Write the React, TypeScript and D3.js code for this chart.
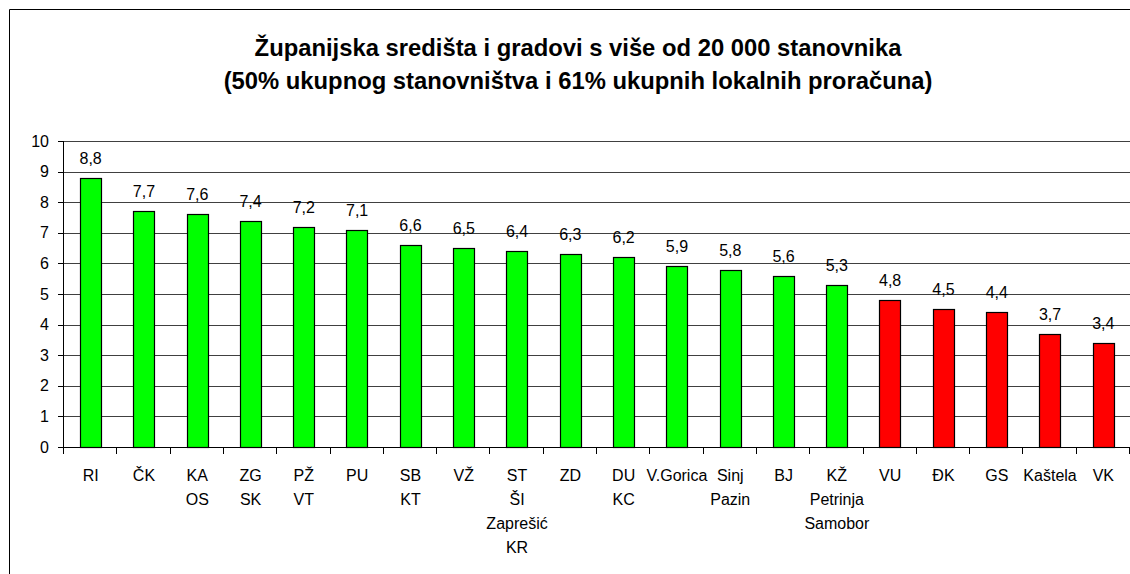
import React from 'react'
import * as d3 from 'd3'

const titleLines = [
  'Županijska središta i gradovi s više od 20 000 stanovnika',
  '(50% ukupnog stanovništva i 61% ukupnih lokalnih proračuna)',
]

const categories = [
  'RI', 'ČK', 'KA\nOS', 'ZG\nSK', 'PŽ\nVT', 'PU', 'SB\nKT', 'VŽ', 'ST\nŠI\nZaprešić\nKR', 'ZD',
  'DU\nKC', 'V.Gorica', 'Sinj\nPazin', 'BJ', 'KŽ\nPetrinja\nSamobor', 'VU', 'ĐK', 'GS', 'Kaštela', 'VK',
]

const values = [8.8, 7.7, 7.6, 7.4, 7.2, 7.1, 6.6, 6.5, 6.4, 6.3, 6.2, 5.9, 5.8, 5.6, 5.3, 4.8, 4.5, 4.4, 3.7, 3.4]

const yTicks = [0, 1, 2, 3, 4, 5, 6, 7, 8, 9, 10]

const W = 1130
const H = 574
const FONT = "Arial, 'Liberation Sans', sans-serif"

export default function App() {
  const margin = { top: 141, right: 0, bottom: H - 447, left: 64 }

  const x = d3.scaleBand<number>()
    .domain(d3.range(categories.length))
    .range([margin.left, W - margin.right])
    .paddingInner(0.6)
    .paddingOuter(0.3)
  // band step used for ticks between categories
  const step = (W - margin.right - margin.left) / categories.length
  const y = d3.scaleLinear().domain([0, 10]).range([H - margin.bottom, margin.top])

  const fmt = (v: number) => v.toFixed(1).replace('.', ',')

  return (
    <svg width={W} height={H} style={{ position: 'fixed', left: 0, top: 0, background: '#fff' }}>
      <rect x={0} y={0} width={W} height={H} fill="#fff" />
      {/* chart frame */}
      <path d={`M9.5,${H} V9.5 H${W}`} fill="none" stroke="#000" strokeWidth={1} />

      {titleLines.map((t, i) => (
        <text key={i} x={578} y={56 + i * 33} textAnchor="middle" fontFamily={FONT}
          fontWeight="bold" fontSize={23.8} fill="#000">{t}</text>
      ))}

      {/* gridlines */}
      {yTicks.map((t) => (
        <line key={t} x1={margin.left} x2={W} y1={Math.round(y(t)) + 0.5} y2={Math.round(y(t)) + 0.5}
          stroke={t === 0 ? '#000' : '#404040'} strokeWidth={1} />
      ))}

      {/* y axis */}
      <line x1={margin.left - 0.5} x2={margin.left - 0.5} y1={y(10)} y2={y(0) + 0.5} stroke="#000" />
      {yTicks.map((t) => (
        <g key={t}>
          <line x1={margin.left - 6} x2={margin.left} y1={Math.round(y(t)) + 0.5} y2={Math.round(y(t)) + 0.5} stroke="#000" />
          <text x={margin.left - 15} y={y(t)} dy="0.35em" textAnchor="end" fontFamily={FONT}
            fontSize={16} fill="#000">{t}</text>
        </g>
      ))}

      {/* x ticks */}
      {d3.range(categories.length + 1).map((i) => {
        const xx = Math.round(margin.left + i * step) - 0.5
        return <line key={i} x1={xx} x2={xx} y1={y(0)} y2={y(0) + 7} stroke="#000" />
      })}

      {/* bars */}
      {values.map((v, i) => (
        <rect key={i} x={Math.round(x(i)!) + 0.5} y={Math.round(y(v)) + 0.5}
          width={Math.round(x.bandwidth())} height={Math.round(y(0)) - Math.round(y(v))}
          fill={v < 5 ? '#ff0000' : '#00ff00'} stroke="#000" strokeWidth={1.2} />
      ))}

      {/* value labels */}
      {values.map((v, i) => (
        <text key={i} x={x(i)! + x.bandwidth() / 2} y={y(v) - 14} textAnchor="middle"
          fontFamily={FONT} fontSize={16} fill="#000">{fmt(v)}</text>
      ))}

      {/* category labels */}
      {categories.map((c, i) => (
        <text key={i} x={x(i)! + x.bandwidth() / 2} y={481} textAnchor="middle"
          fontFamily={FONT} fontSize={16} fill="#000">
          {c.split('\n').map((line, j) => (
            <tspan key={j} x={x(i)! + x.bandwidth() / 2} y={481 + j * 24}>{line}</tspan>
          ))}
        </text>
      ))}
    </svg>
  )
}
